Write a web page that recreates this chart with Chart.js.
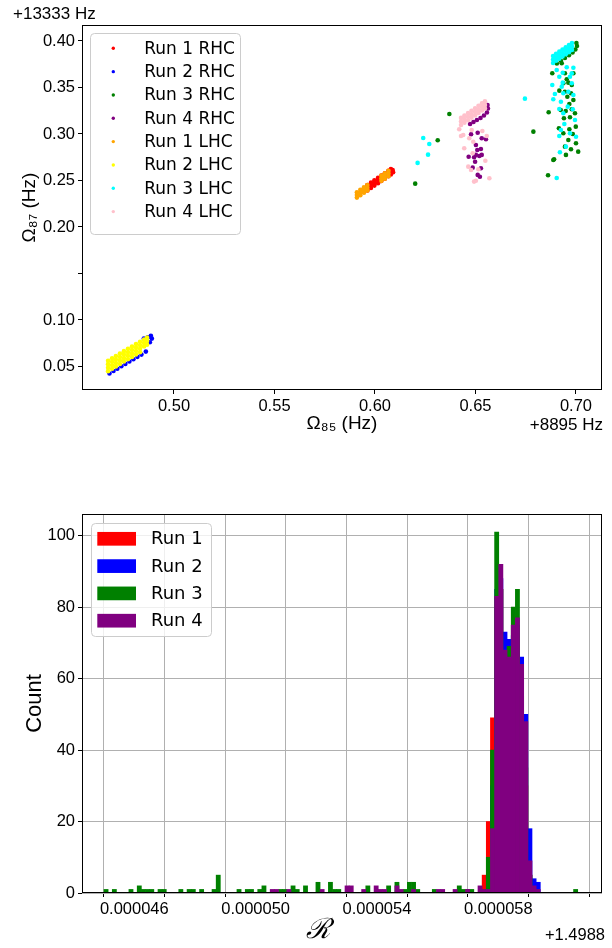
<!DOCTYPE html>
<html><head><meta charset="utf-8">
<script src="https://cdn.jsdelivr.net/npm/chart.js@4.4.1/dist/chart.umd.min.js"></script>
<style>
html,body{margin:0;padding:0;background:#fff;width:612px;height:948px;overflow:hidden}
canvas{position:absolute;left:0}
#c1{top:0}
#c2{top:474px}
</style></head><body>
<canvas id="c1" width="612" height="474"></canvas>
<canvas id="c2" width="612" height="474"></canvas>
<script>
// ---------- Scatter data (Omega_85 offset, Omega_87 offset) ----------
const run1RHC = [
 [0.5962,0.2422],[0.5980,0.2448],[0.5997,0.2474],[0.6015,0.2499],[0.6032,0.2525],[0.6049,0.2549],[0.6067,0.2575],[0.6079,0.2593],
 [0.5962,0.2451],[0.5980,0.2477],[0.5997,0.2503],[0.6015,0.2528],[0.6032,0.2554],[0.6049,0.2578],[0.6067,0.2604],[0.6079,0.2622],
 [0.5962,0.2393],[0.5980,0.2419],[0.5997,0.2445],[0.6015,0.2470],[0.6032,0.2496],[0.6049,0.2520],[0.6067,0.2546],[0.6079,0.2564],
 [0.6088,0.2612],[0.6090,0.2590]
];
const run2RHC = [
 [0.4679,0.0425],[0.4699,0.0451],[0.4718,0.0476],[0.4738,0.0502],[0.4758,0.0528],[0.4778,0.0553],[0.4798,0.0578],[0.4818,0.0604],[0.4838,0.0628],
 [0.4850,0.0800],[0.4870,0.0815],[0.4885,0.0830],[0.4890,0.0800],[0.4880,0.0760],[0.4860,0.0660]
];
const run3RHC = [
 [0.6905,0.3758],[0.6925,0.3787],[0.6945,0.3817],[0.6965,0.3846],[0.6983,0.3876],[0.6997,0.3909],[0.7005,0.3946],[0.7002,0.3979],
 [0.6370,0.3215],[0.6312,0.2933],[0.6200,0.2466],[0.6788,0.3025],[0.6864,0.3234],[0.6887,0.2721],[0.6861,0.2556],[0.6882,0.3653],
 [0.6929,0.3760],[0.6945,0.3653],[0.6987,0.3653],[0.6954,0.3588],[0.6962,0.3552],[0.6937,0.3545],[0.6979,0.3527],[0.6917,0.3466],
 [0.6945,0.3455],[0.6975,0.3438],[0.6957,0.3401],[0.6987,0.3366],[0.6967,0.3323],[0.6924,0.3258],[0.6949,0.3248],[0.6979,0.3266],
 [0.6995,0.3223],[0.6940,0.3169],[0.6970,0.3180],[0.6915,0.3062],[0.6967,0.3051],[0.6999,0.3079],[0.6937,0.3008],[0.6984,0.3000],
 [0.6962,0.2936],[0.7000,0.2900],[0.6945,0.2864],[0.6975,0.2836],[0.6950,0.2775],[0.7011,0.2810],[0.6891,0.2728]
];
const run4RHC = [
 [0.6473,0.3108],[0.6490,0.3129],[0.6507,0.3151],[0.6525,0.3172],[0.6542,0.3199],[0.6557,0.3231],[0.6562,0.3274],[0.6560,0.3312],
 [0.6511,0.3014],[0.6478,0.2997],[0.6531,0.2954],[0.6552,0.2943],[0.6502,0.2882],[0.6509,0.2828],[0.6527,0.2839],[0.6466,0.2756],
 [0.6502,0.2775],[0.6519,0.2764],[0.6531,0.2775],[0.6493,0.2750],[0.6486,0.2638],[0.6527,0.2632],[0.6511,0.2560],[0.6522,0.2541],
 [0.6498,0.2702]
];
const run1LHC = [
 [0.5910,0.2345],[0.5927,0.2371],[0.5945,0.2397],[0.5962,0.2422],[0.6032,0.2525],[0.6049,0.2549],[0.6067,0.2575],
 [0.5910,0.2374],[0.5927,0.2400],[0.5945,0.2426],[0.5962,0.2451],[0.6032,0.2554],[0.6049,0.2578],[0.6067,0.2604],
 [0.5910,0.2316],[0.5927,0.2342],[0.5945,0.2368],[0.5962,0.2393],[0.6032,0.2496],[0.6049,0.2520],[0.6067,0.2546]
];
const run2LHC = [
 [0.4672,0.0562],[0.4692,0.0588],[0.4711,0.0613],[0.4731,0.0639],[0.4751,0.0665],[0.4771,0.0690],[0.4791,0.0715],[0.4811,0.0741],[0.4831,0.0765],[0.4851,0.0791],[0.4866,0.0810],
 [0.4672,0.0525],[0.4692,0.0551],[0.4711,0.0576],[0.4731,0.0602],[0.4751,0.0628],[0.4771,0.0653],[0.4791,0.0678],[0.4811,0.0704],[0.4831,0.0728],[0.4851,0.0754],[0.4866,0.0773],
 [0.4672,0.0487],[0.4692,0.0513],[0.4711,0.0538],[0.4731,0.0564],[0.4751,0.0590],[0.4771,0.0615],[0.4791,0.0640],[0.4811,0.0666],[0.4831,0.0690],[0.4851,0.0716],[0.4866,0.0735],
 [0.4672,0.0450],[0.4692,0.0476],[0.4711,0.0501],[0.4731,0.0527],[0.4751,0.0553],[0.4771,0.0578],[0.4791,0.0603],[0.4811,0.0629],[0.4831,0.0653]
];
const run3LHC = [
 [0.6886,0.3839],[0.6901,0.3863],[0.6917,0.3886],[0.6933,0.3909],[0.6949,0.3933],[0.6965,0.3956],[0.6980,0.3979],
 [0.6886,0.3801],[0.6901,0.3825],[0.6917,0.3848],[0.6933,0.3871],[0.6949,0.3895],[0.6965,0.3918],[0.6980,0.3941],
 [0.6886,0.3763],[0.6901,0.3787],[0.6917,0.3810],[0.6933,0.3833],[0.6949,0.3857],[0.6965,0.3880],[0.6980,0.3903],
 [0.6746,0.3380],[0.6240,0.2957],[0.6270,0.2893],[0.6264,0.2778],[0.6212,0.2689],[0.6904,0.2527],[0.6904,0.3688],[0.6934,0.3659],
 [0.6954,0.3717],[0.6987,0.3713],[0.6917,0.3616],[0.6970,0.3616],[0.6882,0.3527],[0.6929,0.3509],[0.6962,0.3455],[0.6895,0.3430],
 [0.6937,0.3438],[0.6887,0.3373],[0.6925,0.3347],[0.6987,0.3420],[0.6917,0.3269],[0.6959,0.3294],[0.6937,0.3223],[0.6984,0.3266],
 [0.6942,0.3108],[0.6995,0.3151],[0.6925,0.3043],[0.6970,0.3008],[0.7000,0.2971],[0.6917,0.2979],[0.6920,0.2804],[0.6950,0.2864],
 [0.6934,0.3552],[0.6979,0.3545],[0.6979,0.3653]
];
const run4LHC = [
 [0.6428,0.3173],[0.6445,0.3198],[0.6463,0.3224],[0.6480,0.3250],[0.6498,0.3276],[0.6515,0.3303],[0.6532,0.3329],[0.6547,0.3351],
 [0.6428,0.3135],[0.6445,0.3160],[0.6463,0.3186],[0.6480,0.3212],[0.6498,0.3238],[0.6515,0.3265],[0.6532,0.3291],[0.6547,0.3313],
 [0.6428,0.3097],[0.6445,0.3122],[0.6463,0.3148],[0.6480,0.3174],[0.6498,0.3200],[0.6515,0.3227],[0.6532,0.3253],[0.6547,0.3275],
 [0.6419,0.3051],[0.6439,0.2990],[0.6428,0.2979],[0.6481,0.3043],[0.6469,0.2954],[0.6534,0.3033],[0.6556,0.2979],[0.6444,0.2847],
 [0.6489,0.2917],[0.6486,0.2793],[0.6549,0.2713],[0.6464,0.2649],[0.6478,0.2613],[0.6514,0.2621],[0.6569,0.2524],[0.6493,0.2488],
 [0.6502,0.2498]
];
const scatterLabels = ['Run 1 RHC','Run 2 RHC','Run 3 RHC','Run 4 RHC','Run 1 LHC','Run 2 LHC','Run 3 LHC','Run 4 LHC'];
const scatterSeries = [run1RHC, run2RHC, run3RHC, run4RHC, run1LHC, run2LHC, run3LHC, run4LHC];
const scatterXTicks = [0.50, 0.55, 0.60, 0.65, 0.70];
const scatterXTickLabels = ['0.50','0.55','0.60','0.65','0.70'];
const scatterYTicks = [0.05, 0.10, 0.15, 0.20, 0.25, 0.30, 0.35, 0.40];
const scatterYTickLabels = ['0.05','0.10','','0.20','0.25','0.30','0.35','0.40'];

// ---------- Histogram data (R offset from 1.4988) ----------
const binStart = 0.0000450;
const binWidth = 0.000000137;
const run1Counts = [[91,5],[92,20],[93,49],[94,80],[95,85],[96,65],[97,60],[98,65],[99,60],[100,45],[101,30],[102,5],[103,1]];
const run2Counts = [[92,5],[93,30],[94,85],[95,88],[96,73],[97,71],[98,72],[99,75],[100,66],[101,50],[102,18],[103,4],[104,3]];
const run3Counts = [[0,1],[2,1],[6,1],[8,2],[9,1],[10,1],[11,1],[13,1],[14,1],[18,1],[20,1],[21,1],[23,1],[26,1],[27,5],[32,1],
 [34,1],[35,1],[37,1],[38,2],[42,1],[43,1],[45,2],[46,1],[48,2],[51,3],[54,3],[55,1],[56,1],[63,2],[68,2],[70,3],[72,1],[73,3],
 [74,3],[75,1],[79,1],[85,2],[86,1],[87,1],[88,1],[91,1],[92,10],[93,40],[94,101],[95,85],[96,62],[97,69],[98,80],[99,85],
 [100,55],[101,35],[102,5],[103,1],[113,1]];
const run4Counts = [[40,1],[41,1],[44,1],[52,1],[58,2],[59,2],[62,1],[65,2],[66,1],[67,1],[70,2],[71,1],[74,1],[80,1],[81,1],
 [84,1],[87,1],[90,2],[91,1],[92,1],[93,18],[94,83],[95,92],[96,68],[97,66],[98,75],[99,77],[100,64],[101,48],[102,9],[103,2],[104,1]];
const histLabels = ['Run 1','Run 2','Run 3','Run 4'];
const histSeries = [run1Counts, run2Counts, run3Counts, run4Counts];
const histXTicks = [0.000046, 0.000048, 0.000050, 0.000052, 0.000054, 0.000056, 0.000058, 0.000060];
const histXTickLabels = ['0.000046','','0.000050','','0.000054','','0.000058',''];
const histYTicks = [0, 20, 40, 60, 80, 100];

// ---------- styles ----------
const scatterColors = ['#ff0000','#0000ff','#008000','#800080','#ffa500','#ffff00','#00ffff','#ffc0cb'];
const histColors = ['#ff0000','#0000ff','#008000','#800080'];
Chart.defaults.color = '#000';
const TICK_FONT = {family:'Liberation Sans, Arial, sans-serif', size:16.5};

function framePlugin(id){
  return {id, afterDraw(chart){
    const {ctx, chartArea:a} = chart;
    ctx.save(); ctx.strokeStyle='#000'; ctx.lineWidth=1;
    ctx.strokeRect(Math.round(a.left)+0.5, Math.round(a.top)+0.5, Math.round(a.right-a.left)-1, Math.round(a.bottom-a.top)-1);
    ctx.restore();
  }};
}

// ---------- Top scatter ----------
const topExtras = {id:'topExtras', afterDraw(chart){
  const ctx = chart.ctx; ctx.save();
  ctx.fillStyle='#000'; ctx.font='17px Liberation Sans, Arial, sans-serif';
  ctx.textBaseline='middle'; ctx.textAlign='left';
  ctx.fillText('+13333 Hz', 13, 14);
  ctx.textAlign='right';
  ctx.fillText('+8895 Hz', 603, 425);
  ctx.beginPath(); ctx.roundRect(90.5, 33.5, 150, 201, 4);
  ctx.fillStyle='rgba(255,255,255,0.8)'; ctx.fill();
  ctx.strokeStyle='#cccccc'; ctx.lineWidth=1; ctx.stroke();
  ctx.font='17px DejaVu Sans, sans-serif'; ctx.textAlign='left'; ctx.textBaseline='middle';
  scatterLabels.forEach((lab,i)=>{
    const y = 48.3 + 23.33*i;
    ctx.beginPath(); ctx.arc(113.3, y, 1.7, 0, Math.PI*2); ctx.fillStyle=scatterColors[i]; ctx.fill();
    ctx.fillStyle='#000'; ctx.fillText(lab, 144.3, y+1);
  });
  ctx.restore();
}};

new Chart(document.getElementById('c1'), {
  type:'scatter',
  data:{datasets: scatterSeries.map((s,i)=>({
    label: scatterLabels[i],
    data: s.map(p=>({x:p[0], y:p[1]})),
    backgroundColor: scatterColors[i], borderWidth:0,
    pointRadius:2.3, pointHoverRadius:2.3,
    order: scatterSeries.length - i
  }))},
  options:{
    responsive:false, maintainAspectRatio:false, animation:false, devicePixelRatio:1, events:[],
    layout:{padding:{top:25, right:10, left:0, bottom:0}},
    plugins:{legend:{display:false}, tooltip:{enabled:false}},
    scales:{
      x:{type:'linear', min:0.45423, max:0.71294,
        afterBuildTicks:s=>{s.ticks = scatterXTicks.map(v=>({value:v}));},
        afterFit:s=>{s.height=84;},
        ticks:{callback:(v,i)=>scatterXTickLabels[i], font:TICK_FONT, color:'#000', padding:3, maxRotation:0, autoSkip:false},
        grid:{drawOnChartArea:false, drawTicks:true, tickLength:4, color:'#000', lineWidth:1},
        border:{display:false},
        title:{display:true, text:'Ω₈₅ (Hz)', color:'#000', font:{family:'Liberation Sans, Arial, sans-serif', size:19}, padding:{top:0,bottom:38.6}}
      },
      y:{type:'linear', min:0.02473, max:0.41720,
        afterBuildTicks:s=>{s.ticks = scatterYTicks.map(v=>({value:v}));},
        afterFit:s=>{s.width=82;},
        ticks:{callback:(v,i)=>scatterYTickLabels[i], font:TICK_FONT, color:'#000', padding:3, autoSkip:false},
        grid:{drawOnChartArea:false, drawTicks:true, tickLength:4, color:'#000', lineWidth:1},
        border:{display:false},
        title:{display:true, text:'Ω₈₇ (Hz)', color:'#000', font:{family:'Liberation Sans, Arial, sans-serif', size:19}, padding:{top:18.6,bottom:0}}
      }
    }
  },
  plugins:[framePlugin('frameTop'), topExtras]
});

// ---------- Bottom histogram ----------
const bottomExtras = {id:'bottomExtras', afterDraw(chart){
  const ctx = chart.ctx; ctx.save();
  ctx.fillStyle='#000'; ctx.font='16.5px Liberation Sans, Arial, sans-serif';
  ctx.textAlign='right'; ctx.textBaseline='middle';
  ctx.fillText('+1.4988', 605, 461);
  ctx.font='italic 28px DejaVu Serif, serif'; ctx.textAlign='center';
  ctx.fillText('ℛ', 318, 457);
  ctx.beginPath(); ctx.roundRect(91.5, 49.5, 120, 113, 4);
  ctx.fillStyle='rgba(255,255,255,0.8)'; ctx.fill();
  ctx.strokeStyle='#cccccc'; ctx.lineWidth=1; ctx.stroke();
  ctx.font='18px DejaVu Sans, sans-serif'; ctx.textAlign='left'; ctx.textBaseline='middle';
  histLabels.forEach((lab,i)=>{
    const y = 64.8 + 27.3*i;
    ctx.fillStyle=histColors[i]; ctx.fillRect(97.3, y-6.85, 38.7, 13.7);
    ctx.fillStyle='#000'; ctx.fillText(lab, 151, y+1);
  });
  ctx.restore();
}};

new Chart(document.getElementById('c2'), {
  type:'bar',
  data:{datasets: histSeries.map((s,i)=>({
    label: histLabels[i],
    data: s.map(p=>({x: binStart + (p[0]+0.5)*binWidth, y: p[1]})),
    backgroundColor: histColors[i], borderWidth:0,
    grouped:false, barPercentage:1, categoryPercentage:1,
    order: histSeries.length - i
  }))},
  options:{
    responsive:false, maintainAspectRatio:false, animation:false, devicePixelRatio:1, events:[],
    layout:{padding:{top:40, right:10, left:0, bottom:0}},
    plugins:{legend:{display:false}, tooltip:{enabled:false}},
    scales:{
      x:{type:'linear', min:4.42758e-5, max:6.14187e-5, offset:false, z:1,
        afterBuildTicks:s=>{s.ticks = histXTicks.map(v=>({value:v}));},
        afterFit:s=>{s.height=55;},
        ticks:{callback:(v,i)=>histXTickLabels[i], font:TICK_FONT, color:'#000', padding:3, maxRotation:0, autoSkip:false},
        grid:{color:'#b0b0b0', lineWidth:1, drawTicks:true, tickLength:4, tickColor:'#000', tickWidth:1},
        border:{display:false}
      },
      y:{type:'linear', min:0, max:106.05, z:1,
        afterBuildTicks:s=>{s.ticks = histYTicks.map(v=>({value:v}));},
        afterFit:s=>{s.width=82;},
        ticks:{callback:v=>String(v), font:TICK_FONT, color:'#000', padding:3, autoSkip:false},
        grid:{color:'#b0b0b0', lineWidth:1, drawTicks:true, tickLength:4, tickColor:'#000', tickWidth:1},
        border:{display:false},
        title:{display:true, text:'Count', color:'#000', font:{family:'Liberation Sans, Arial, sans-serif', size:22}, padding:{top:21.8,bottom:0}}
      }
    }
  },
  plugins:[framePlugin('frameBottom'), bottomExtras]
});
</script></body></html>
